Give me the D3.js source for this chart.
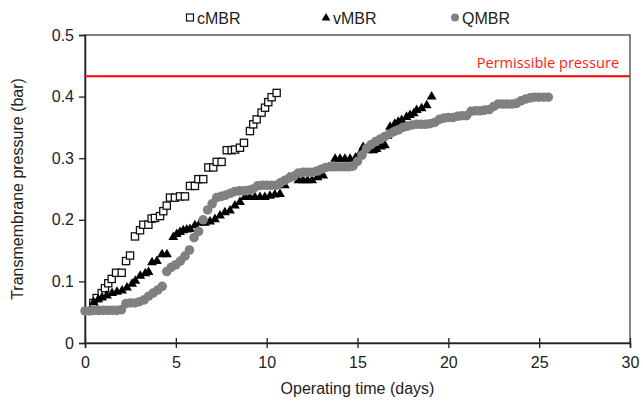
<!DOCTYPE html>
<html>
<head>
<meta charset="utf-8">
<script src="https://cdn.jsdelivr.net/npm/d3@7"></script>
<style>
  body { margin: 0; background: #fff; }
  svg { display: block; }
  text { font-family: "Liberation Sans", Arial, sans-serif; fill: #222; }
</style>
</head>
<body>
<div id="chart"></div>
<script>
const chart_width = 643;
const chart_height = 403;
const margin = { left: 85, right: 13, top: 35, bottom: 60 };

// [operating time (days), TMP (bar)]
const cmbr = [
  [0.46,0.065],[0.64,0.073],[0.92,0.081],[1.10,0.089],[1.28,0.097],[1.47,0.104],[1.71,0.114],[2.02,0.114],
  [2.26,0.133],[2.48,0.142],[2.75,0.173],[3.03,0.183],[3.21,0.192],[3.49,0.192],[3.67,0.202],[3.85,0.203],
  [4.13,0.206],[4.31,0.214],[4.50,0.223],[4.68,0.236],[4.95,0.236],[5.23,0.238],[5.50,0.238],[5.78,0.255],
  [6.05,0.255],[6.24,0.266],[6.51,0.266],[6.79,0.285],[7.06,0.285],[7.25,0.294],[7.52,0.294],[7.80,0.313],
  [8.07,0.313],[8.26,0.314],[8.53,0.317],[8.75,0.325],[9.08,0.344],[9.26,0.355],[9.45,0.363],[9.72,0.374],
  [9.91,0.382],[10.09,0.391],[10.27,0.399],[10.55,0.406]
];

const vmbr = [
  [0.48,0.065],[0.73,0.070],[0.94,0.073],[1.21,0.076],[1.49,0.080],[1.76,0.082],[2.04,0.084],[2.31,0.089],
  [2.59,0.095],[2.77,0.100],[3.04,0.108],[3.32,0.112],[3.50,0.114],[3.69,0.130],[3.96,0.132],[4.24,0.143],
  [4.51,0.143],[4.86,0.171],[5.05,0.176],[5.23,0.179],[5.41,0.182],[5.60,0.183],[5.78,0.184],[6.05,0.190],
  [6.33,0.194],[6.60,0.194],[6.88,0.196],[7.15,0.200],[7.43,0.206],[7.70,0.211],[7.98,0.214],[8.25,0.222],
  [8.53,0.228],[8.80,0.236],[9.07,0.236],[9.35,0.236],[9.63,0.236],[9.90,0.236],[10.18,0.238],[10.45,0.240],
  [10.73,0.241],[11.00,0.255],[11.24,0.268],[11.75,0.263],[12.00,0.263],[12.25,0.263],[12.50,0.263],[12.80,0.268],
  [13.11,0.271],[13.40,0.284],[13.77,0.298],[14.04,0.298],[14.31,0.298],[14.59,0.298],[14.90,0.300],[15.13,0.306],
  [15.31,0.317],[15.60,0.312],[15.87,0.312],[16.05,0.314],[16.30,0.318],[16.51,0.320],[16.65,0.335],[16.79,0.350],
  [17.05,0.355],[17.24,0.358],[17.43,0.361],[17.70,0.366],[17.89,0.369],[18.10,0.372],[18.26,0.377],[18.53,0.380],
  [18.81,0.385],[19.08,0.399]
];

const qmbr = [
  [0.00,0.052],[0.25,0.052],[0.50,0.053],[0.75,0.053],[1.00,0.053],[1.25,0.053],[1.50,0.053],[1.75,0.053],
  [2.00,0.054],[2.25,0.064],[2.50,0.065],[2.75,0.065],[3.00,0.067],[3.25,0.070],[3.50,0.076],[3.75,0.081],
  [4.00,0.086],[4.25,0.092],[4.50,0.116],[4.75,0.123],[5.00,0.127],[5.25,0.133],[5.50,0.141],[5.75,0.151],
  [6.00,0.171],[6.25,0.181],[6.50,0.200],[6.75,0.216],[7.00,0.226],[7.25,0.236],[7.50,0.238],[7.75,0.240],
  [8.00,0.243],[8.25,0.246],[8.50,0.247],[8.75,0.247],[9.00,0.248],[9.25,0.250],[9.50,0.255],[9.75,0.256],
  [10.00,0.256],[10.25,0.256],[10.50,0.256],[10.75,0.260],[11.00,0.264],[11.25,0.268],[11.50,0.271],[11.75,0.276],
  [12.00,0.277],[12.25,0.277],[12.50,0.277],[12.75,0.279],[13.00,0.282],[13.25,0.285],[13.50,0.286],[13.75,0.286],
  [14.00,0.286],[14.25,0.286],[14.50,0.286],[14.75,0.287],[15.00,0.295],[15.25,0.305],[15.50,0.316],[15.75,0.322],
  [16.00,0.327],[16.25,0.331],[16.50,0.335],[16.75,0.339],[17.00,0.343],[17.25,0.346],[17.50,0.350],[17.75,0.352],
  [18.00,0.354],[18.25,0.355],[18.50,0.355],[18.75,0.355],[19.00,0.356],[19.25,0.358],[19.50,0.363],[19.75,0.365],
  [20.00,0.366],[20.25,0.366],[20.50,0.368],[20.75,0.369],[21.00,0.369],[21.25,0.376],[21.50,0.377],[21.75,0.377],
  [22.00,0.378],[22.25,0.379],[22.50,0.384],[22.75,0.388],[23.00,0.388],[23.25,0.388],[23.50,0.388],[23.75,0.389],
  [24.00,0.393],[24.25,0.396],[24.50,0.398],[24.75,0.399],[25.00,0.399],[25.25,0.399],[25.50,0.399]
];

const permissible_pressure = 0.433;
const x_ticks = [0, 5, 10, 15, 20, 25, 30];
const y_ticks = [0, 0.1, 0.2, 0.3, 0.4, 0.5];
const legend_labels = ["cMBR", "vMBR", "QMBR"];

const svg = d3.select("#chart")
  .append("svg")
    .attr("width", chart_width)
    .attr("height", chart_height);

const x = d3.scaleLinear().domain([0, 30]).range([margin.left, chart_width - margin.right]);
const y = d3.scaleLinear().domain([0, 0.5]).range([chart_height - margin.bottom, margin.top]);

// frame (top + right)
svg.append("rect")
  .attr("x", x(0)).attr("y", y(0.5))
  .attr("width", x(30) - x(0)).attr("height", y(0) - y(0.5))
  .attr("fill", "none").attr("stroke", "#333").attr("stroke-width", 1.2);

// axes
const x_axis = svg.append("g")
  .attr("transform", `translate(0,${y(0)})`)
  .call(d3.axisBottom(x).tickValues(x_ticks).tickSize(5).tickPadding(9).tickFormat(d3.format("d")));
x_axis.selectAll(".tick line").attr("y1", -5);

const y_axis = svg.append("g")
  .attr("transform", `translate(${x(0)},0)`)
  .call(d3.axisLeft(y).tickValues(y_ticks).tickSize(6).tickPadding(5).tickFormat((d) => d === 0 ? "0" : d3.format(".1f")(d)));

[x_axis, y_axis].forEach((g) => {
  g.select(".domain").attr("stroke", "#222").attr("stroke-width", 1.5);
  g.selectAll(".tick line").attr("stroke", "#222").attr("stroke-width", 1.3);
  g.selectAll(".tick text")
    .attr("font-family", "Liberation Sans, Arial, sans-serif")
    .attr("font-size", 16).attr("fill", "#222");
});

// axis titles
svg.append("text")
  .attr("x", (x(0) + x(30)) / 2).attr("y", 394)
  .attr("text-anchor", "middle").attr("font-size", 16)
  .text("Operating time (days)");

svg.append("text")
  .attr("transform", `translate(23,${(y(0) + y(0.5)) / 2}) rotate(-90)`)
  .attr("text-anchor", "middle").attr("font-size", 16)
  .text("Transmembrane pressure (bar)");

// permissible pressure line
svg.append("line")
  .attr("x1", x(0)).attr("x2", x(30))
  .attr("y1", y(permissible_pressure)).attr("y2", y(permissible_pressure))
  .attr("stroke", "#ff0000").attr("stroke-width", 2);

svg.append("text")
  .attr("x", x(29.4)).attr("y", y(permissible_pressure) - 8)
  .attr("text-anchor", "end")
  .style("font-family", "'Open Sans', sans-serif")
  .style("fill", "#ff2020")
  .attr("font-size", 14.6)
  .text("Permissible pressure");

const tri = d3.symbol().type(d3.symbolTriangle).size(42);

// markers
svg.append("g").selectAll("rect")
  .data(cmbr)
  .join("rect")
    .attr("x", (d) => x(d[0]) - 3.6).attr("y", (d) => y(d[1]) - 3.6)
    .attr("width", 7.2).attr("height", 7.2)
    .attr("fill", "#fff").attr("stroke", "#111").attr("stroke-width", 1.3);

svg.append("g").selectAll("path")
  .data(vmbr)
  .join("path")
    .attr("d", tri)
    .attr("transform", (d) => `translate(${x(d[0])},${y(d[1]) - 0.5})`)
    .attr("fill", "#000");

svg.append("g").selectAll("circle")
  .data(qmbr)
  .join("circle")
    .attr("cx", (d) => x(d[0])).attr("cy", (d) => y(d[1]))
    .attr("r", 4.8)
    .attr("fill", "#808080");

// legend
const legend_x = [190, 326, 455];
const legend = svg.append("g");
legend.append("rect")
  .attr("x", legend_x[0] - 3.5).attr("y", 14).attr("width", 7).attr("height", 7)
  .attr("fill", "#fff").attr("stroke", "#111").attr("stroke-width", 1.2);
legend.append("path")
  .attr("d", d3.symbol().type(d3.symbolTriangle).size(34))
  .attr("transform", `translate(${legend_x[1]},18)`).attr("fill", "#000");
legend.append("circle")
  .attr("cx", legend_x[2]).attr("cy", 17.5).attr("r", 4).attr("fill", "#808080");
legend.selectAll("text")
  .data(legend_labels)
  .join("text")
    .attr("x", (d, i) => legend_x[i] + 7)
    .attr("y", 24)
    .attr("font-size", 16)
    .text((d) => d);
</script>
</body>
</html>
